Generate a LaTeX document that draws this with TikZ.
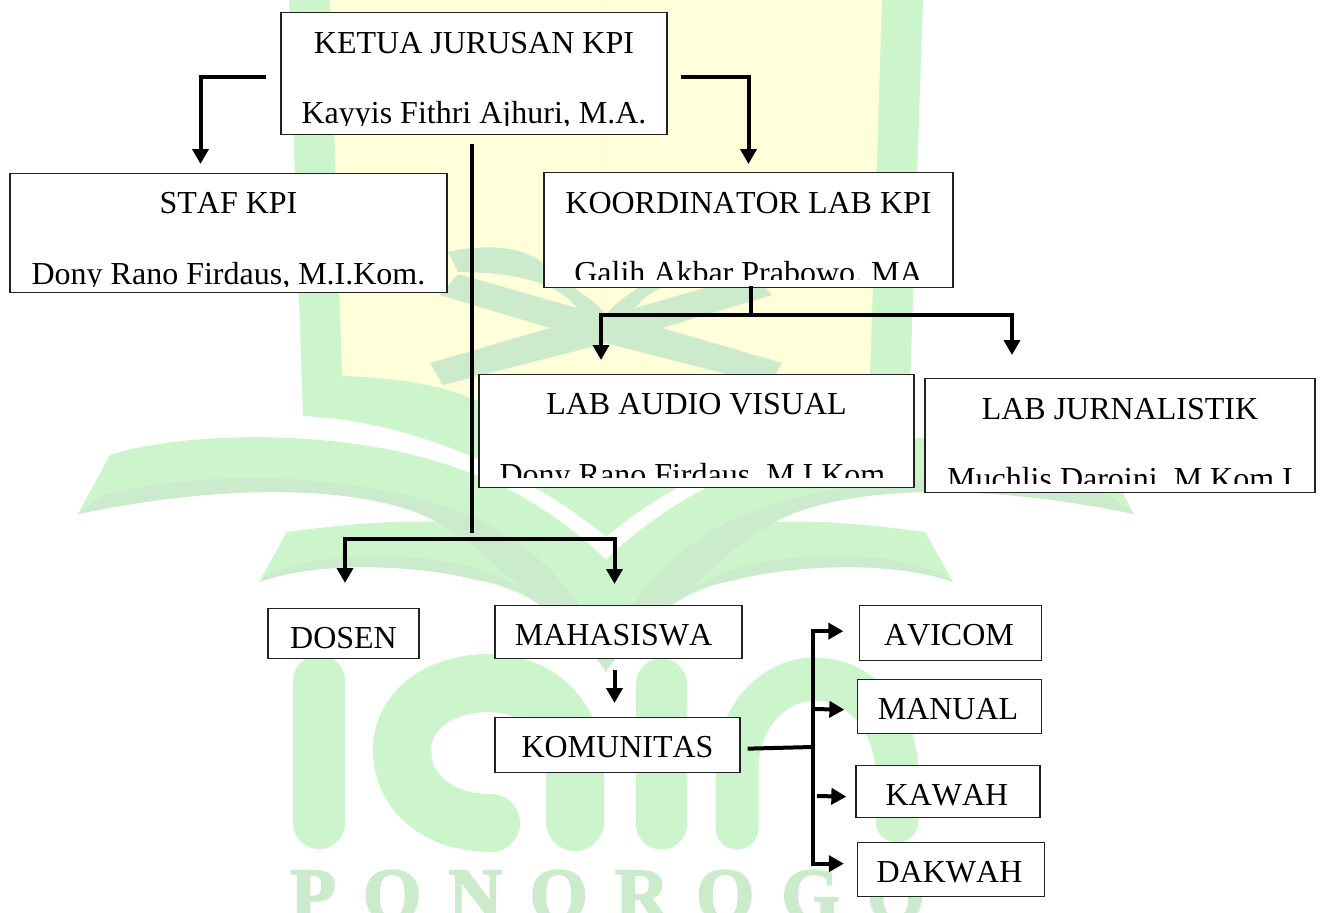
\documentclass[tikz,border=0pt]{standalone}
\usepackage{xcolor}
\usepackage{fontspec}
\setmainfont[Kerning=Off]{Liberation Serif}
\newfontfamily\markfont[LetterSpace=36,BoldFeatures={FakeBold=2.5}]{Liberation Serif}
\definecolor{markGreen}{HTML}{CCF5CC}
\definecolor{markDark}{HTML}{CCEBCC}
\definecolor{markYellow}{HTML}{FFFFD9}
\definecolor{boxLine}{HTML}{222222}
\usepackage{tikz}
\usetikzlibrary{
    arrows.meta,
    positioning,
    calc
}
\tikzset{
    % Base style for all boxes
    org base/.style={
        font=\fontsize{32}{38}\selectfont,
        align=center,
        inner sep=0pt,
    },
    % Box with a white ground, width then height above and below the baseline
    org box/.style n args={3}{
        org base,
        rectangle,
        draw=boxLine,
        line width=1.3pt,
        fill=white,
        anchor=north,
        minimum width=#1,
        text height=#2,
        text depth=#3,
    },
    % Second line of a box, cut off at the bottom
    org name/.style={
        org base,
        anchor=base,
    },
    % Plain thick line
    bar/.style={
        line width=4pt,
        draw=black,
        miter limit=10,
    },
    % Thick line with a solid head
    arrow/.style={
        bar,
        -{Triangle[length=15pt, width=16pt]},
    },
    % Logo strokes behind the chart
    logo stroke/.style={
        draw=markGreen,
        line cap=round,
    },
}
\begin{document}
\begin{tikzpicture}[x=1pt, y=-1pt]
    \useasboundingbox (0,0) rectangle (1320,913);
    \fill [white] (0,0) rectangle (1320,913);

    % logo
    \begin{scope}
        \clip (0,0) rectangle (1320,913);
        \draw [logo stroke, line width=52pt] (319,681) -- (319,823);
        \draw [logo stroke, line width=58pt] (491,823) .. controls (435,823) and (402,790) .. (402,750)
            .. controls (402,710) and (440,683) .. (489,683) .. controls (540,683) and (575,720) .. (575,770) -- (575,822);
        \draw [logo stroke, line width=51pt] (661.5,684) -- (661.5,824);
        \draw [logo stroke, line width=43pt] (737,828) -- (737,770) .. controls (737,715) and (775,679) .. (815,679)
            .. controls (860,679) and (897,720) .. (897,775) -- (897,821);
        \node (marktext) [anchor=base west, inner sep=0pt, text=markDark, font=\markfont\bfseries\fontsize{75}{80}\selectfont] at (290,920) {PONOROGO};
        \foreach \flip in {1,-1} {
            \begin{scope}[xshift=606pt, xscale=\flip, xshift=-606pt]
                \fill [markGreen] (289,0) -- (303,416) .. controls (400,420) and (520,465) .. (606.5,537) -- (606.5,0) -- cycle;
                \fill [markYellow] (330,0) -- (342,376) .. controls (400,378) and (440,385) .. (470,398)
                    .. controls (520,415) and (570,445) .. (606.5,480) -- (606.5,0) -- cycle;
                \fill [markDark] (458,274) -- (577,308) -- (606.5,315) -- (606.5,343) -- (443,385) -- (430,363) -- (550,328) -- (440,295) -- cycle;
                \fill [markDark] (448,252) .. controls (480,244) and (525,245) .. (545,265) .. controls (565,285) and (590,295) .. (606.5,315)
                    -- (577,308) .. controls (560,285) and (520,272) .. (458,272) -- cycle;
                \fill [markGreen] (110,455) .. controls (180,432) and (350,425) .. (470,473) .. controls (520,490) and (570,525) .. (606.5,560)
                    -- (606.5,672) .. controls (570,620) and (530,590) .. (477,580) .. controls (420,565) and (320,560) .. (259,582)
                    -- (287,532) .. controls (340,525) and (390,520) .. (437,522) .. controls (380,490) and (250,478) .. (78,514) -- cycle;
                \fill [markDark] (103,495) .. controls (200,470) and (370,470) .. (480,520) .. controls (530,545) and (570,580) .. (606.5,650)
                    -- (606.5,672) .. controls (570,620) and (520,590) .. (490,560) .. controls (470,540) and (450,530) .. (437,522)
                    .. controls (380,490) and (250,478) .. (78,514) -- cycle;
                \fill [markDark] (267,575) .. controls (320,552) and (400,550) .. (472,567) .. controls (505,578) and (530,590) .. (545,610)
                    .. controls (530,595) and (510,585) .. (477,580) .. controls (420,565) and (320,560) .. (259,582) -- cycle;
            \end{scope}
        }
    \end{scope}

    % boxes
    \node (ketua) [org box={386pt}{41pt}{81pt}] at (474,12) {KETUA JURUSAN KPI};
    \node (staf) [org box={437pt}{40pt}{79pt}] at (228.5,173) {STAF KPI};
    \node (koord) [org box={409pt}{41pt}{74pt}] at (748.5,172) {KOORDINATOR LAB KPI};
    \node (audio) [org box={435pt}{40pt}{73pt}] at (696.5,374) {LAB AUDIO VISUAL};
    \node (jurnal) [org box={390pt}{41pt}{73pt}] at (1120,378) {LAB JURNALISTIK};
    \node (dosen) [org box={151pt}{40pt}{10pt}] at (343.5,608) {DOSEN};
    \node (maha) [org box={247pt}{40pt}{13pt}] at (618.5,605) {\hspace*{-10pt}MAHASISWA};
    \node (komun) [org box={245pt}{40pt}{15pt}] at (617.5,717) {KOMUNITAS};
    \node (avicom) [org box={182pt}{40pt}{15pt}] at (950.5,605) {\hspace*{-3pt}AVICOM};
    \node (manual) [org box={184pt}{40pt}{14pt}] at (949.5,679) {\hspace*{-3pt}MANUAL};
    \node (kawah) [org box={184pt}{40pt}{12pt}] at (948,765) {\hspace*{-2pt}KAWAH};
    \node (dakwah) [org box={187pt}{40pt}{14pt}] at (951,842) {\hspace*{-3pt}DAKWAH};

    % names, cut off above the bottom of their box
    \foreach \who/\cut/\base/\txt in {
        ketua/10/12/{Kayyis Fithri Ajhuri, M.A.},
        staf/7/9/{Dony Rano Firdaus, M.I.Kom.},
        koord/9/5/{Galih Akbar Prabowo, MA},
        audio/11/3/{Dony Rano Firdaus, M.I.Kom.},
        jurnal/10/4/{Muchlis Daroini, M.Kom.I}} {
        \begin{scope}
            \clip (\who.north west) rectangle ([yshift=\cut pt]\who.south east);
            \node (\who name) [org name] at ([yshift=\base pt]\who.south) {\txt};
        \end{scope}
    }

    % connectors
    \coordinate (staffHub) at (471.5,539);
    \coordinate (labHub) at (751,315);
    \coordinate (komHub) at (812.5,747);
    \coordinate (manualOut) at (812.5,709);
    \coordinate (kawahOut) at (817,796);

    \draw [arrow] ([shift={(-14,3)}]ketua.west) -| ([shift={(-28,-9)}]staf.north);
    \draw [arrow] ([shift={(13,3)}]ketua.east) -| ([shift={(0,-8)}]koord.north);
    \draw [bar] ([shift={(-2.5,9)}]ketua.south) -- ([yshift=6pt]staffHub);
    \draw [arrow] (staffHub) -| ([shift={(1.5,-25)}]dosen.north);
    \draw [arrow] (staffHub) -| ([shift={(-4,-21)}]maha.north);
    \draw [bar] ([shift={(2.5,-2)}]koord.south) -- (labHub);
    \draw [arrow] (labHub) -| ([shift={(-95.5,-14)}]audio.north);
    \draw [arrow] (labHub) -| ([shift={(-108,-23)}]jurnal.north);
    \draw [arrow] ([shift={(-4,11)}]maha.south) -- ([shift={(-3,-14)}]komun.north);
    \draw [bar] ([shift={(7,3.5)}]komun.east) -- (komHub);
    \draw [arrow] (komHub) |- ([shift={(-15.5,-2)}]avicom.west);
    \draw [arrow] (komHub) |- ([shift={(-13,-6)}]dakwah.west);
    \draw [arrow] (manualOut) -- ([shift={(-12.5,3)}]manual.west);
    \draw [arrow] (kawahOut) -- ([shift={(-9,5)}]kawah.west);
\end{tikzpicture}
\end{document}
